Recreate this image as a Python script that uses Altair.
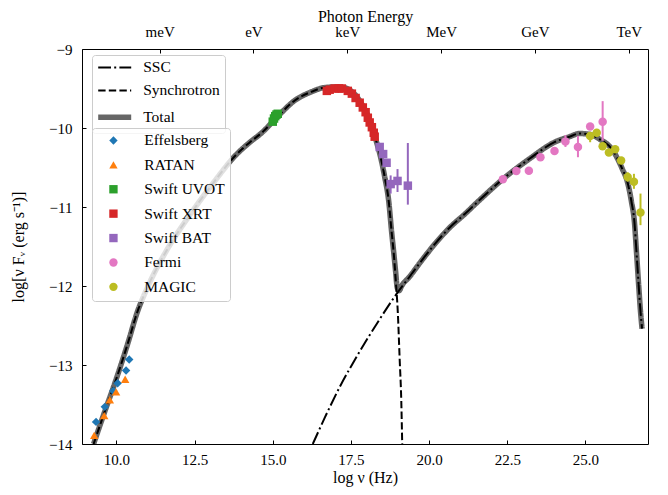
import json
import altair as alt
import pandas as pd

# ---------------- model curves (log nu [Hz], log nuFnu) ----------------
sync_x = [9.27, 9.60, 9.95, 10.37, 10.66, 10.98, 11.62, 12.35, 13.09, 13.85, 14.27, 14.65,
          15.07, 15.71, 16.25, 16.63, 17.01, 17.30, 17.53, 17.72, 17.88, 18.04, 18.20, 18.32,
          18.45, 18.58, 18.71, 18.80, 18.87, 18.93, 19.00, 19.06, 19.11, 19.14]
sync_y = [-14.00, -13.62, -13.23, -12.72, -12.34, -12.03, -11.54, -11.10, -10.70, -10.33, -10.18, -10.06,
          -9.89, -9.65, -9.54, -9.49, -9.48, -9.49, -9.54, -9.62, -9.72, -9.84, -10.02, -10.18,
          -10.37, -10.62, -10.93, -11.31, -11.59, -11.91, -12.34, -12.94, -13.45, -14.00]

ssc_x = [16.28, 16.66, 17.14, 17.78, 18.42, 18.96, 19.38, 19.70, 20.18, 20.66, 21.14, 21.62,
         22.35, 23.21, 24.01, 24.49, 24.81, 25.13, 25.45, 25.87, 26.18, 26.34, 26.47, 26.57,
         26.63, 26.70, 26.76, 26.81]
ssc_y = [-14.00, -13.67, -13.28, -12.83, -12.42, -12.10, -11.88, -11.71, -11.47, -11.26, -11.09, -10.91,
         -10.65, -10.39, -10.18, -10.11, -10.07, -10.08, -10.14, -10.28, -10.52, -10.68, -10.93, -11.21,
         -11.56, -11.98, -12.32, -12.54]

tot_x = [9.27, 9.60, 9.95, 10.37, 10.66, 10.98, 11.62, 12.35, 13.09, 13.85, 14.27, 14.65,
         15.07, 15.71, 16.25, 16.63, 17.01, 17.30, 17.53, 17.72, 17.88, 18.04, 18.20, 18.32,
         18.45, 18.58, 18.71, 18.80, 18.87, 18.93, 18.98, 19.04, 19.12, 19.38, 19.70, 20.18,
         20.66, 21.14, 21.62, 22.35, 23.21, 24.01, 24.49, 24.81, 25.13, 25.45, 25.87, 26.18,
         26.34, 26.47, 26.57, 26.63, 26.70, 26.76, 26.81]
tot_y = [-14.00, -13.62, -13.23, -12.72, -12.34, -12.03, -11.54, -11.10, -10.70, -10.33, -10.18, -10.06,
         -9.89, -9.65, -9.54, -9.49, -9.48, -9.49, -9.54, -9.62, -9.72, -9.84, -10.02, -10.18,
         -10.37, -10.62, -10.93, -11.31, -11.58, -11.82, -12.02, -12.06, -12.00, -11.88, -11.71, -11.47,
         -11.26, -11.09, -10.91, -10.65, -10.39, -10.18, -10.11, -10.07, -10.08, -10.14, -10.28, -10.52,
         -10.68, -10.93, -11.21, -11.56, -11.98, -12.32, -12.54]

model_names = ["SSC", "Synchrotron", "Total"]
model_colors = ["#000000", "#000000", "#666666"]
model_dashes = [[12.8, 3.2, 2, 3.2], [7.4, 3.2], [1, 0]]
model_widths = [2, 2, 5.5]

# ---------------- observations ----------------
eff_x = [10.41, 10.31, 10.04, 9.90, 9.63, 9.35]
eff_y = [-12.93, -13.07, -13.23, -13.33, -13.53, -13.72]

ratan_x = [10.28, 9.99, 9.79, 9.61, 9.29]
ratan_y = [-13.18, -13.34, -13.44, -13.64, -13.89]

uvot_x = [15.00, 15.04, 15.08, 15.12, 15.16]
uvot_y = [-9.92, -9.88, -9.85, -9.83, -9.82]

xrt_x = [16.73, 16.82, 16.98, 17.11, 17.21, 17.40, 17.53, 17.65, 17.78, 17.88,
         17.97, 18.04, 18.10, 18.17, 18.23, 18.26]
xrt_y = [-9.53, -9.515, -9.50, -9.50, -9.50, -9.53, -9.565, -9.62, -9.68, -9.74,
         -9.80, -9.87, -9.93, -9.99, -10.06, -10.11]

bat_x = [18.42, 18.53, 18.64, 18.77, 18.99, 19.32]
bat_y = [-10.24, -10.33, -10.44, -10.71, -10.67, -10.73]
bat_lo = [-10.24, -10.33, -10.44, -10.83, -10.81, -10.97]
bat_hi = [-10.24, -10.33, -10.44, -10.60, -10.52, -10.19]

fermi_x = [22.36, 22.79, 23.19, 23.56, 24.01, 24.36, 24.76, 25.15, 25.55]
fermi_y = [-10.65, -10.545, -10.54, -10.37, -10.29, -10.17, -10.24, -9.98, -9.92]
fermi_lo = [-10.65, -10.545, -10.54, -10.37, -10.29, -10.24, -10.37, -9.98, -10.16]
fermi_hi = [-10.65, -10.545, -10.54, -10.37, -10.29, -10.09, -10.10, -9.98, -9.66]

magic_x = [25.15, 25.36, 25.55, 25.75, 25.95, 26.14, 26.35, 26.55, 26.76]
magic_y = [-10.10, -10.06, -10.23, -10.31, -10.27, -10.41, -10.62, -10.68, -11.07]
magic_lo = [-10.18, -10.06, -10.23, -10.31, -10.27, -10.41, -10.68, -10.77, -11.23]
magic_hi = [-10.06, -10.06, -10.23, -10.31, -10.27, -10.41, -10.56, -10.58, -10.83]

inst_names = ["Effelsberg", "RATAN", "Swift UVOT", "Swift XRT", "Swift BAT", "Fermi", "MAGIC"]
inst_colors = ["#1f77b4", "#ff7f0e", "#2ca02c", "#d62728", "#9467bd", "#e377c2", "#bcbd22"]
inst_shapes = ["diamond", "triangle-up", "square", "square", "square", "circle", "circle"]

energy_ticks = [11.383, 14.383, 17.383, 20.383, 23.383, 26.383]
energy_labels = ["meV", "eV", "keV", "MeV", "GeV", "TeV"]

x_ticks = [10.0, 12.5, 15.0, 17.5, 20.0, 22.5, 25.0]
y_ticks = [-14, -13, -12, -11, -10, -9]

# ---------------- tables ----------------
def model_df(name, xs, ys):
    return pd.DataFrame({"x": xs, "y": ys, "model": name})

lines = pd.concat([model_df("SSC", ssc_x, ssc_y),
                   model_df("Synchrotron", sync_x, sync_y),
                   model_df("Total", tot_x, tot_y)], ignore_index=True)

def obs_df(name, xs, ys, lo=None, hi=None):
    d = pd.DataFrame({"x": xs, "y": ys, "inst": name})
    d["lo"] = lo if lo is not None else ys
    d["hi"] = hi if hi is not None else ys
    return d

obs = pd.concat([obs_df("Effelsberg", eff_x, eff_y),
                 obs_df("RATAN", ratan_x, ratan_y),
                 obs_df("Swift UVOT", uvot_x, uvot_y),
                 obs_df("Swift XRT", xrt_x, xrt_y),
                 obs_df("Swift BAT", bat_x, bat_y, bat_lo, bat_hi),
                 obs_df("Fermi", fermi_x, fermi_y, fermi_lo, fermi_hi),
                 obs_df("MAGIC", magic_x, magic_y, magic_lo, magic_hi)], ignore_index=True)

FONT = "Liberation Serif"
XDOM = [8.9, 27.0]
YDOM = [-14, -9]

x_axis = alt.Axis(values=x_ticks, format=".1f", title="log ν (Hz)", tickSize=4, offset=-4,
                  domain=False, grid=False, labelPadding=8, titlePadding=2)
y_axis = alt.Axis(values=y_ticks, format="d", title="log[ν Fᵥ (erg s⁻¹)]", tickSize=4, offset=-4,
                  domain=False, grid=False, labelPadding=10, titlePadding=22)

X = alt.X("x:Q", scale=alt.Scale(domain=XDOM, nice=False, zero=False), axis=x_axis)
Y = alt.Y("y:Q", scale=alt.Scale(domain=YDOM, nice=False, zero=False), axis=y_axis)

line_legend = alt.Legend(title=None, orient="none", legendX=10, legendY=6,
                         symbolType="M-3,0H3", symbolSize=121, labelFont=FONT, labelFontSize=15.5,
                         rowPadding=6, padding=4.7, symbolOffset=9.5, labelOffset=20,
                         fillColor="rgba(255,255,255,0.8)", strokeColor="#cccccc", cornerRadius=3)
pt_legend = alt.Legend(title=None, orient="none", legendX=10, legendY=79,
                       symbolSize=70, labelFont=FONT, labelFontSize=15.5,
                       rowPadding=7.4, padding=4.7, symbolOffset=9, labelOffset=23,
                       fillColor="rgba(255,255,255,0.8)", strokeColor="#cccccc", cornerRadius=3)

stroke_enc = alt.Stroke("model:N", scale=alt.Scale(domain=model_names, range=model_colors), legend=line_legend)
dash_enc = alt.StrokeDash("model:N", scale=alt.Scale(domain=model_names, range=model_dashes), legend=line_legend)
width_enc = alt.StrokeWidth("model:O", sort=model_names,
                            scale=alt.Scale(type="ordinal", domain=model_names, range=model_widths),
                            legend=line_legend)

def line_layer(name):
    return alt.Chart(lines).transform_filter(alt.datum.model == name).mark_line(
        interpolate="monotone", clip=True, strokeCap="butt").encode(
        x=X, y=Y, stroke=stroke_enc, strokeDash=dash_enc, strokeWidth=width_enc)

layers = [line_layer("Total"), line_layer("SSC"), line_layer("Synchrotron")]

for name in ["Swift BAT", "Fermi", "MAGIC"]:
    col = inst_colors[inst_names.index(name)]
    layers.append(alt.Chart(obs).transform_filter(alt.datum.inst == name).mark_rule(
        strokeWidth=2, color=col, clip=True).encode(
        x=X, y=alt.Y("lo:Q", scale=alt.Scale(domain=YDOM, nice=False, zero=False), axis=y_axis),
        y2="hi:Q"))

layers.append(alt.Chart(obs).mark_point(filled=True, opacity=1, size=72, clip=True).encode(
    x=X, y=Y,
    color=alt.Color("inst:N", scale=alt.Scale(domain=inst_names, range=inst_colors), legend=pt_legend),
    shape=alt.Shape("inst:N", scale=alt.Scale(domain=inst_names, range=inst_shapes), legend=pt_legend)))

main = alt.layer(*layers)

label_expr = f"{json.dumps(energy_labels)}[indexof({json.dumps(energy_ticks)}, datum.value)]"
top_axis = alt.Axis(orient="top", values=energy_ticks, labelExpr=label_expr, title="Photon Energy",
                    tickSize=4, offset=-4, domain=False, grid=False, labelPadding=10, titlePadding=0)
top = alt.Chart(pd.DataFrame({"e": energy_ticks})).mark_point(opacity=0).encode(
    x=alt.X("e:Q", scale=alt.Scale(domain=XDOM, nice=False, zero=False), axis=top_axis))

chart = alt.layer(main, top).resolve_scale(x="independent").properties(
    width=566, height=395,
    autosize=alt.AutoSizeParams(type="none"),
    padding={"left": 74, "top": 41, "right": 12, "bottom": 43},
).configure_view(stroke="black", strokeWidth=1).configure_axis(
    labelFont=FONT, titleFont=FONT, labelFontSize=15, titleFontSize=16,
    titleFontWeight="normal", labelColor="black", titleColor="black", tickColor="black",
    tickWidth=1,
).configure_legend(labelColor="black")

chart.save("out.html", embed_options={"renderer": "svg", "actions": False})
